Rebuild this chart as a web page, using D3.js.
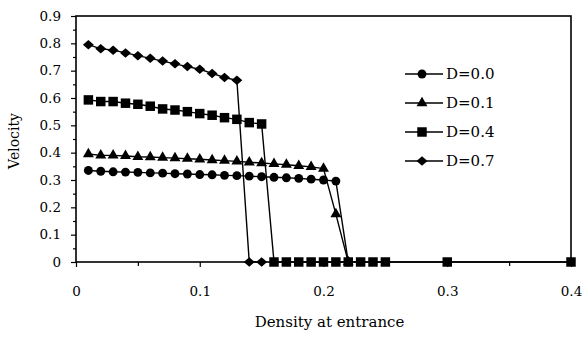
<!DOCTYPE html>
<html>
<head>
<meta charset="utf-8">
<script src="https://cdn.jsdelivr.net/npm/d3@7"></script>
<style>
  body { margin: 0; background: #fff; }
  svg text { font-family: "DejaVu Serif", "Liberation Serif", serif; fill: #000; }
</style>
</head>
<body>
<div id="chart"></div>
<script>
// density at entrance for each series
const xD00 = [0.01,0.02,0.03,0.04,0.05,0.06,0.07,0.08,0.09,0.10,0.11,0.12,0.13,0.14,0.15,0.16,0.17,0.18,0.19,0.20,0.21,0.22];
const yD00 = [0.335,0.332,0.330,0.329,0.328,0.326,0.325,0.323,0.322,0.320,0.319,0.317,0.316,0.314,0.312,0.310,0.308,0.306,0.303,0.300,0.296,0];

const xD01 = [0.01,0.02,0.03,0.04,0.05,0.06,0.07,0.08,0.09,0.10,0.11,0.12,0.13,0.14,0.15,0.16,0.17,0.18,0.19,0.20,0.21,0.22];
const yD01 = [0.395,0.390,0.390,0.388,0.385,0.384,0.382,0.380,0.378,0.376,0.373,0.371,0.368,0.365,0.362,0.359,0.356,0.352,0.348,0.342,0.175,0];

const xD04 = [0.01,0.02,0.03,0.04,0.05,0.06,0.07,0.08,0.09,0.10,0.11,0.12,0.13,0.14,0.15,0.16,0.17,0.18,0.19,0.20,0.21,0.22,0.23,0.24,0.25,0.30,0.40];
const yD04 = [0.593,0.587,0.587,0.581,0.577,0.570,0.560,0.556,0.550,0.543,0.537,0.528,0.522,0.510,0.505,0,0,0,0,0,0,0,0,0,0,0,0];

const xD07 = [0.01,0.02,0.03,0.04,0.05,0.06,0.07,0.08,0.09,0.10,0.11,0.12,0.13,0.14,0.15];
const yD07 = [0.795,0.780,0.775,0.765,0.755,0.745,0.735,0.725,0.715,0.705,0.690,0.675,0.665,0,0];

const seriesNames = ["D=0.0", "D=0.1", "D=0.4", "D=0.7"];
const seriesSymbols = ["circle", "triangle", "square", "diamond"];
const xTicks = [0, 0.1, 0.2, 0.3, 0.4];
const yTicks = [0, 0.1, 0.2, 0.3, 0.4, 0.5, 0.6, 0.7, 0.8, 0.9];

const W = 583, H = 338;
const margin = {top: 16, right: 12, bottom: 76, left: 76};
const width = W - margin.left - margin.right;
const height = H - margin.top - margin.bottom;

const svg = d3.select("#chart")
  .append("svg")
    .attr("width", W)
    .attr("height", H);
const g = svg.append("g")
    .attr("transform", "translate(" + margin.left + "," + margin.top + ")");

const x = d3.scaleLinear().domain([0, 0.4]).range([0, width]);
const y = d3.scaleLinear().domain([0, 0.9]).range([height, 0]);

// minor ticks
g.append("g")
  .attr("transform", "translate(0," + height + ")")
  .call(d3.axisBottom(x).tickValues(d3.range(0.05, 0.4, 0.1)).tickSize(4).tickFormat(""))
  .call(a => a.select(".domain").remove())
  .selectAll("line").attr("stroke-width", 1.2);
g.append("g")
  .call(d3.axisLeft(y).tickValues(d3.range(0.05, 0.9, 0.1)).tickSize(3).tickFormat(""))
  .call(a => a.select(".domain").remove())
  .selectAll("line").attr("stroke-width", 1.2);

// X axis
const xAxis = g.append("g")
  .attr("transform", "translate(0," + height + ")")
  .call(d3.axisBottom(x).tickValues(xTicks).tickSize(5).tickPadding(19).tickFormat(d => d === 0 ? "0" : d3.format(".1f")(d)));
xAxis.select(".domain").remove();
xAxis.selectAll("line").attr("stroke-width", 1.2);
xAxis.selectAll("text").style("font-size", "13.5px");

// Y axis
const yAxis = g.append("g")
  .call(d3.axisLeft(y).tickValues(yTicks).tickSize(5).tickPadding(10).tickFormat(d => d === 0 ? "0" : d3.format(".1f")(d)));
yAxis.select(".domain").remove();
yAxis.selectAll("line").attr("stroke-width", 1.2);
yAxis.selectAll("text").style("font-size", "13.5px");

// plot frame
g.append("rect")
  .attr("x", 0).attr("y", 0)
  .attr("width", width).attr("height", height)
  .attr("fill", "none")
  .attr("stroke", "#000")
  .attr("stroke-width", 1.6);

// axis titles
svg.append("text")
  .attr("x", margin.left + width / 2 + 6)
  .attr("y", 327)
  .attr("text-anchor", "middle")
  .style("font-size", "15px")
  .text("Density at entrance");
svg.append("text")
  .attr("transform", "translate(19," + (margin.top + height / 2 + 2) + ") rotate(-90)")
  .attr("text-anchor", "middle")
  .style("font-size", "14px")
  .text("Velocity");

// wide diamond like the original marker
const wideDiamond = {
  draw(context, size) {
    const r = Math.sqrt(size) / 2;
    context.moveTo(0, -r);
    context.lineTo(r * 1.15, 0);
    context.lineTo(0, r);
    context.lineTo(-r * 1.15, 0);
    context.closePath();
  }
};

const symbolOf = {
  circle: d3.symbol().type(d3.symbolCircle).size(62),
  triangle: d3.symbol().type(d3.symbolTriangle).size(52),
  square: d3.symbol().type(d3.symbolSquare).size(90),
  diamond: d3.symbol().type(wideDiamond).size(90)
};

const allSeries = [
  {name: seriesNames[0], sym: seriesSymbols[0], xs: xD00, ys: yD00},
  {name: seriesNames[1], sym: seriesSymbols[1], xs: xD01, ys: yD01},
  {name: seriesNames[2], sym: seriesSymbols[2], xs: xD04, ys: yD04},
  {name: seriesNames[3], sym: seriesSymbols[3], xs: xD07, ys: yD07}
];

const line = d3.line()
  .x(d => x(d[0]))
  .y(d => y(d[1]));

allSeries.forEach(s => {
  const pts = s.xs.map((v, i) => [v, s.ys[i]]);
  g.append("path")
    .datum(pts)
    .attr("fill", "none")
    .attr("stroke", "#000")
    .attr("stroke-width", 1.4)
    .attr("d", line);
  g.append("g")
    .selectAll("path")
    .data(pts)
    .enter()
    .append("path")
      .attr("transform", d => "translate(" + x(d[0]) + "," + y(d[1]) + ")")
      .attr("d", symbolOf[s.sym])
      .attr("fill", "#000");
});

// legend
const legend = svg.append("g").attr("transform", "translate(405,74)");
allSeries.forEach((s, i) => {
  const row = legend.append("g").attr("transform", "translate(0," + (i * 29) + ")");
  row.append("line")
    .attr("x1", 0).attr("x2", 38)
    .attr("stroke", "#000").attr("stroke-width", 1.4);
  row.append("path")
    .attr("transform", "translate(17,0)")
    .attr("d", symbolOf[s.sym])
    .attr("fill", "#000");
  row.append("text")
    .attr("x", 41)
    .attr("dy", "0.36em")
    .style("font-size", "15px")
    .text(s.name);
});
</script>
</body>
</html>
